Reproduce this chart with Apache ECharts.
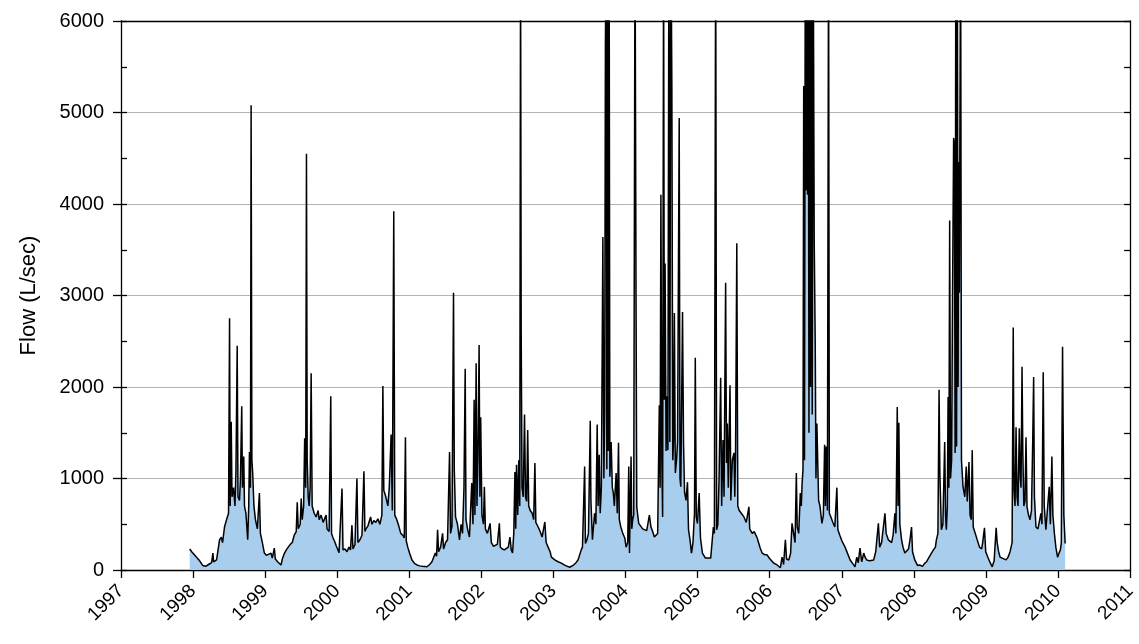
<!DOCTYPE html>
<html>
<head>
<meta charset="utf-8">
<title>Flow</title>
<script src="https://cdn.jsdelivr.net/npm/echarts@6/dist/echarts.min.js"></script>
<style>
html, body { margin: 0; padding: 0; background: #fff; }
#container { width: 1139px; height: 644px; }
</style>
</head>
<body>
<div id="container"></div>
<script>
// year ticks on the x axis
var years = [1997, 1998, 1999, 2000, 2001, 2002, 2003, 2004, 2005, 2006, 2007, 2008, 2009, 2010, 2011];
var flowTicks = [0, 1000, 2000, 3000, 4000, 5000, 6000];

// flow readings, [decimal year, L/sec], one array per wet season
var season1998 = [
	[1997.953,230],[1997.981,200],[1998.036,150],[1998.091,100],[1998.133,50],[1998.174,40],[1998.215,60],
	[1998.257,80],[1998.275,185],[1998.285,90],[1998.326,110],[1998.367,330],[1998.391,360],[1998.409,300],
	[1998.436,470],[1998.464,550],[1998.492,620],[1998.506,2750],[1998.515,700],[1998.529,1620],[1998.540,800],
	[1998.561,900],[1998.581,700],[1998.595,1100],[1998.612,2450],[1998.623,800],[1998.644,760],[1998.657,1000],
	[1998.675,1790],[1998.685,900],[1998.703,1240],[1998.713,700],[1998.733,620],[1998.758,330],[1998.772,700],
	[1998.782,1290],[1998.796,900],[1998.805,5080],[1998.816,1200],[1998.827,1060],[1998.844,700],[1998.865,550],
	[1998.892,450],[1998.920,840],[1998.934,400],[1998.961,300],[1998.989,185],[1999.017,160],[1999.044,140],
	[1999.081,185],[1999.099,130],[1999.127,240],[1999.141,120],[1999.173,90],[1999.196,70],[1999.220,55]
];
var season1999 = [
	[1999.238,120],[1999.265,180],[1999.293,220],[1999.320,250],[1999.348,280],[1999.376,300],[1999.403,380],
	[1999.431,420],[1999.445,740],[1999.459,450],[1999.486,500],[1999.500,780],[1999.514,550],[1999.534,700],
	[1999.548,1440],[1999.562,900],[1999.573,4550],[1999.583,1200],[1999.597,800],[1999.610,700],[1999.624,900],
	[1999.638,2150],[1999.652,700],[1999.680,620],[1999.707,580],[1999.735,650],[1999.749,550],[1999.776,600],
	[1999.804,520],[1999.831,500],[1999.845,600],[1999.859,450],[1999.887,420],[1999.910,1900],[1999.921,400],
	[1999.942,350],[1999.970,300],[1999.983,270],[2000.004,230],[2000.025,190],[2000.052,200],[2000.066,890],
	[2000.080,220],[2000.108,230],[2000.135,200],[2000.163,250],[2000.184,220],[2000.204,490],[2000.218,230],
	[2000.246,280],[2000.273,1000],[2000.287,300],[2000.315,330],[2000.343,380]
];
var season2000 = [
	[2000.370,1080],[2000.384,420],[2000.398,450],[2000.425,480],[2000.463,580],[2000.481,500],[2000.508,540],
	[2000.536,520],[2000.564,560],[2000.591,500],[2000.619,600],[2000.633,2010],[2000.646,870],[2000.674,800],
	[2000.702,700],[2000.722,900],[2000.747,1480],[2000.764,650],[2000.784,3920],[2000.798,600],[2000.826,550],
	[2000.854,480],[2000.881,400],[2000.909,380],[2000.930,350],[2000.946,1450],[2000.957,320],[2000.978,250],
	[2001.005,180],[2001.037,110],[2001.075,70],[2001.106,55],[2001.144,45],[2001.185,40],[2001.244,35],
	[2001.282,60],[2001.314,90],[2001.337,110],[2001.360,185],[2001.378,150],[2001.392,440],[2001.406,200],
	[2001.434,250],[2001.461,400],[2001.475,230],[2001.503,300],[2001.530,330]
];
var season2001 = [
	[2001.558,1290],[2001.572,400],[2001.592,480],[2001.613,3030],[2001.624,1090],[2001.641,580],[2001.668,500],
	[2001.696,330],[2001.717,500],[2001.738,400],[2001.758,900],[2001.775,2200],[2001.786,550],[2001.807,450],
	[2001.834,360],[2001.866,950],[2001.883,500],[2001.899,1860],[2001.910,600],[2001.927,2260],[2001.938,700],
	[2001.952,1250],[2001.968,2460],[2001.979,800],[2001.990,1670],[2002.007,600],[2002.028,500],[2002.041,910],
	[2002.055,450],[2002.083,400],[2002.120,510],[2002.138,300],[2002.166,260],[2002.193,250],[2002.221,280],
	[2002.249,510],[2002.262,250],[2002.290,230],[2002.318,220],[2002.345,240],[2002.373,250],[2002.396,360],
	[2002.414,220],[2002.432,185]
];
var season2002 = [
	[2002.449,400],[2002.465,1070],[2002.476,450],[2002.487,1150],[2002.504,600],[2002.518,1200],[2002.532,700],
	[2002.543,6800],[2002.552,2600],[2002.563,900],[2002.580,800],[2002.598,1700],[2002.612,800],[2002.628,750],
	[2002.642,1530],[2002.656,700],[2002.677,650],[2002.704,620],[2002.725,550],[2002.742,1170],[2002.755,520],
	[2002.787,470],[2002.815,420],[2002.842,360],[2002.880,525],[2002.898,300],[2002.925,250],[2002.953,200],
	[2002.971,140],[2003.018,110],[2003.063,90],[2003.109,75],[2003.160,50],[2003.225,30],[2003.271,50],
	[2003.312,80],[2003.340,110],[2003.385,220]
];
var season2003 = [
	[2003.402,250],[2003.432,1130],[2003.443,290],[2003.464,330],[2003.485,400],[2003.510,1630],[2003.519,760],
	[2003.540,330],[2003.570,620],[2003.588,500],[2003.606,1590],[2003.619,700],[2003.634,1260],[2003.648,620],
	[2003.664,900],[2003.685,3640],[2003.699,1000],[2003.710,1750],[2003.720,5720],[2003.731,7000],[2003.740,1100],
	[2003.750,6800],[2003.761,1300],[2003.771,7500],[2003.782,1020],[2003.800,1400],[2003.816,900],[2003.830,840],
	[2003.844,700],[2003.869,1060],[2003.885,620],[2003.902,1390],[2003.913,550],[2003.934,470],[2003.961,400],
	[2003.989,350],[2004.007,250],[2004.030,300],[2004.044,1130],[2004.054,185],[2004.076,1240],[2004.086,450],
	[2004.099,550],[2004.113,600],[2004.131,7000],[2004.145,3030],[2004.155,690],[2004.182,510],[2004.210,480],
	[2004.237,450],[2004.261,440],[2004.293,430],[2004.330,600],[2004.352,470],[2004.376,420],[2004.399,360],
	[2004.424,380],[2004.445,400]
];
var season2004 = [
	[2004.468,1800],[2004.479,900],[2004.490,4100],[2004.503,1200],[2004.514,580],[2004.527,6800],[2004.538,1860],
	[2004.548,3350],[2004.562,1300],[2004.573,1900],[2004.587,1310],[2004.601,6900],[2004.614,1400],[2004.628,7200],
	[2004.642,5300],[2004.655,1200],[2004.666,1420],[2004.677,2810],[2004.690,1060],[2004.707,1200],[2004.721,1400],
	[2004.744,4940],[2004.755,1000],[2004.766,910],[2004.790,2820],[2004.804,1390],[2004.818,850],[2004.838,760],
	[2004.859,960],[2004.873,440],[2004.894,330],[2004.914,185],[2004.935,300],[2004.956,620],[2004.967,2320],
	[2004.981,580],[2004.997,510],[2005.021,840],[2005.039,350],[2005.066,185],[2005.108,130],[2005.135,110],
	[2005.181,130],[2005.204,140]
];
var season2005 = [
	[2005.218,470],[2005.232,400],[2005.250,7000],[2005.263,440],[2005.280,500],[2005.297,1000],[2005.319,2100],
	[2005.333,700],[2005.352,1420],[2005.366,800],[2005.388,3140],[2005.400,1170],[2005.412,1600],[2005.425,900],
	[2005.449,2020],[2005.460,760],[2005.481,1200],[2005.504,1280],[2005.515,800],[2005.526,1300],[2005.543,3570],
	[2005.557,700],[2005.577,650],[2005.605,620],[2005.642,580],[2005.674,520],[2005.711,690],[2005.722,450],
	[2005.757,400],[2005.785,420],[2005.802,440],[2005.826,350],[2005.867,240],[2005.895,185],[2005.923,170],
	[2005.964,165],[2005.992,130],[2006.056,75],[2006.102,55],[2006.148,25],[2006.171,140],[2006.192,60],
	[2006.217,330],[2006.233,120],[2006.264,110],[2006.289,180]
];
var season2006 = [
	[2006.309,510],[2006.333,490],[2006.351,300],[2006.369,1060],[2006.381,470],[2006.402,400],[2006.424,840],
	[2006.438,700],[2006.448,930],[2006.461,1100],[2006.471,5290],[2006.482,1200],[2006.493,7000],[2006.503,4150],
	[2006.512,7000],[2006.523,4100],[2006.534,7200],[2006.544,1500],[2006.555,7000],[2006.566,2000],[2006.578,6900],
	[2006.589,1700],[2006.602,7200],[2006.617,3600],[2006.631,2480],[2006.641,1000],[2006.654,1600],[2006.678,760],
	[2006.696,700],[2006.724,510],[2006.744,600],[2006.761,1370],[2006.772,700],[2006.783,1350],[2006.800,650],
	[2006.816,7000],[2006.827,620],[2006.848,580],[2006.876,520],[2006.903,470],[2006.931,900],[2006.945,440],
	[2006.972,380],[2007.000,320],[2007.045,250],[2007.069,230],[2007.115,110],[2007.152,70],[2007.183,35],
	[2007.207,140],[2007.228,80],[2007.252,240],[2007.276,90],[2007.304,185],[2007.322,140],[2007.345,110],
	[2007.387,100],[2007.414,90],[2007.442,110]
];
var season2007 = [
	[2007.470,200],[2007.507,510],[2007.525,250],[2007.552,300],[2007.573,280],[2007.598,620],[2007.615,400],
	[2007.645,330],[2007.663,350],[2007.691,300],[2007.711,380],[2007.736,620],[2007.750,400],[2007.769,1780],
	[2007.780,700],[2007.791,1610],[2007.805,500],[2007.829,330],[2007.849,250],[2007.874,185],[2007.898,200],
	[2007.925,230],[2007.946,330],[2007.967,470],[2007.981,200],[2008.012,110],[2008.050,50],[2008.081,55],
	[2008.119,40],[2008.146,70],[2008.174,90],[2008.201,100],[2008.243,185],[2008.271,220],[2008.298,250]
];
var season2008 = [
	[2008.312,330],[2008.333,400],[2008.349,1970],[2008.360,1060],[2008.381,440],[2008.402,500],[2008.427,1400],
	[2008.439,600],[2008.450,440],[2008.464,700],[2008.474,1890],[2008.485,900],[2008.496,3820],[2008.508,1000],
	[2008.523,1200],[2008.536,3000],[2008.551,4720],[2008.561,4650],[2008.572,1280],[2008.581,6800],[2008.592,1350],
	[2008.602,6900],[2008.613,2000],[2008.620,4460],[2008.630,3030],[2008.648,7000],[2008.660,1200],[2008.681,910],
	[2008.706,800],[2008.726,1130],[2008.740,750],[2008.764,1180],[2008.779,600],[2008.795,550],[2008.809,1310],
	[2008.823,470],[2008.851,400],[2008.878,330],[2008.910,250],[2008.940,230],[2008.954,300],[2008.979,460],
	[2008.996,200],[2009.026,140],[2009.058,80],[2009.086,35],[2009.113,100],[2009.141,460],[2009.155,300],
	[2009.175,200],[2009.196,140],[2009.224,130],[2009.251,120],[2009.279,110],[2009.306,140],[2009.334,200],
	[2009.348,220]
];
var season2009 = [
	[2009.362,300],[2009.378,2650],[2009.389,870],[2009.403,700],[2009.417,1560],[2009.431,800],[2009.444,700],
	[2009.462,1550],[2009.476,1000],[2009.486,900],[2009.500,2220],[2009.511,1280],[2009.525,700],[2009.541,750],
	[2009.555,1450],[2009.569,690],[2009.590,600],[2009.610,550],[2009.631,650],[2009.648,1400],[2009.661,2110],
	[2009.672,800],[2009.693,470],[2009.721,450],[2009.741,430],[2009.762,620],[2009.776,500],[2009.794,2160],
	[2009.808,700],[2009.831,440],[2009.852,420],[2009.877,910],[2009.893,500],[2009.914,1240],[2009.928,600],
	[2009.949,400],[2009.969,250],[2009.993,140],[2010.011,180],[2010.032,220],[2010.045,300],[2010.062,2440],
	[2010.070,1600],[2010.080,600],[2010.098,290]
];

var flowData = [].concat(season1998, season1999, season2000, season2001, season2002, season2003,
	season2004, season2005, season2006, season2007, season2008, season2009);

var chart = echarts.init(document.getElementById('container'));
var font = 'Liberation Sans, Arial, sans-serif';

var option = {
	backgroundColor: '#ffffff',
	animation: false,
	grid: {
		left: 121,
		right: 5,
		top: 21,
		bottom: 74
	},
	xAxis: [
		{
			type: 'value',
			min: years[0],
			max: years[years.length - 1],
			interval: 1,
			position: 'bottom',
			axisLine: { show: true, onZero: false, lineStyle: { color: '#000', width: 1.3 } },
			axisTick: { show: true, inside: false, length: 8, lineStyle: { color: '#000', width: 1.3 } },
			axisLabel: {
				rotate: 45,
				margin: 18,
				padding: [12, 0, 0, 0],
				fontSize: 19,
				fontFamily: font,
				color: '#000',
				formatter: function(v) { return String(v); }
			},
			splitLine: { show: false }
		},
		{
			type: 'value',
			min: years[0],
			max: years[years.length - 1],
			position: 'top',
			axisLine: { show: true, onZero: false, lineStyle: { color: '#000', width: 1.3 } },
			axisTick: { show: false },
			axisLabel: { show: false },
			splitLine: { show: false }
		}
	],
	yAxis: [
		{
			type: 'value',
			min: flowTicks[0],
			max: flowTicks[flowTicks.length - 1],
			interval: 1000,
			position: 'left',
			name: 'Flow (L/sec)',
			nameLocation: 'middle',
			nameRotate: 90,
			nameGap: 81,
			nameTextStyle: { fontSize: 22, fontFamily: font, color: '#000' },
			axisLine: { show: true, onZero: false, lineStyle: { color: '#000', width: 1.3 } },
			axisTick: { show: true, inside: false, length: 8, lineStyle: { color: '#000', width: 1.3 } },
			axisLabel: {
				margin: 17,
				fontSize: 20,
				fontFamily: font,
				color: '#000',
				formatter: function(v) { return String(v); }
			},
			splitLine: { show: true, lineStyle: { color: '#b4b4b4', width: 1 } }
		},
		{
			type: 'value',
			min: 0,
			max: 6000,
			interval: 500,
			position: 'left',
			axisLine: { show: false },
			axisTick: { show: true, inside: true, length: 6, lineStyle: { color: '#000', width: 1.3 } },
			axisLabel: { show: false },
			splitLine: { show: false }
		},
		{
			type: 'value',
			min: 0,
			max: 6000,
			interval: 500,
			position: 'right',
			axisLine: { show: true, onZero: false, lineStyle: { color: '#000', width: 1.3 } },
			axisTick: { show: true, inside: true, length: 6, lineStyle: { color: '#000', width: 1.3 } },
			axisLabel: { show: false },
			splitLine: { show: false }
		}
	],
	series: [
		{
			name: 'Flow',
			type: 'line',
			xAxisIndex: 0,
			yAxisIndex: 0,
			data: flowData,
			showSymbol: false,
			symbol: 'none',
			sampling: null,
			clip: true,
			lineStyle: { color: '#000', width: 1.5 },
			areaStyle: { color: '#a9cdec', opacity: 1 },
			z: 3
		}
	]
};
chart.setOption(option);
</script>
</body>
</html>
